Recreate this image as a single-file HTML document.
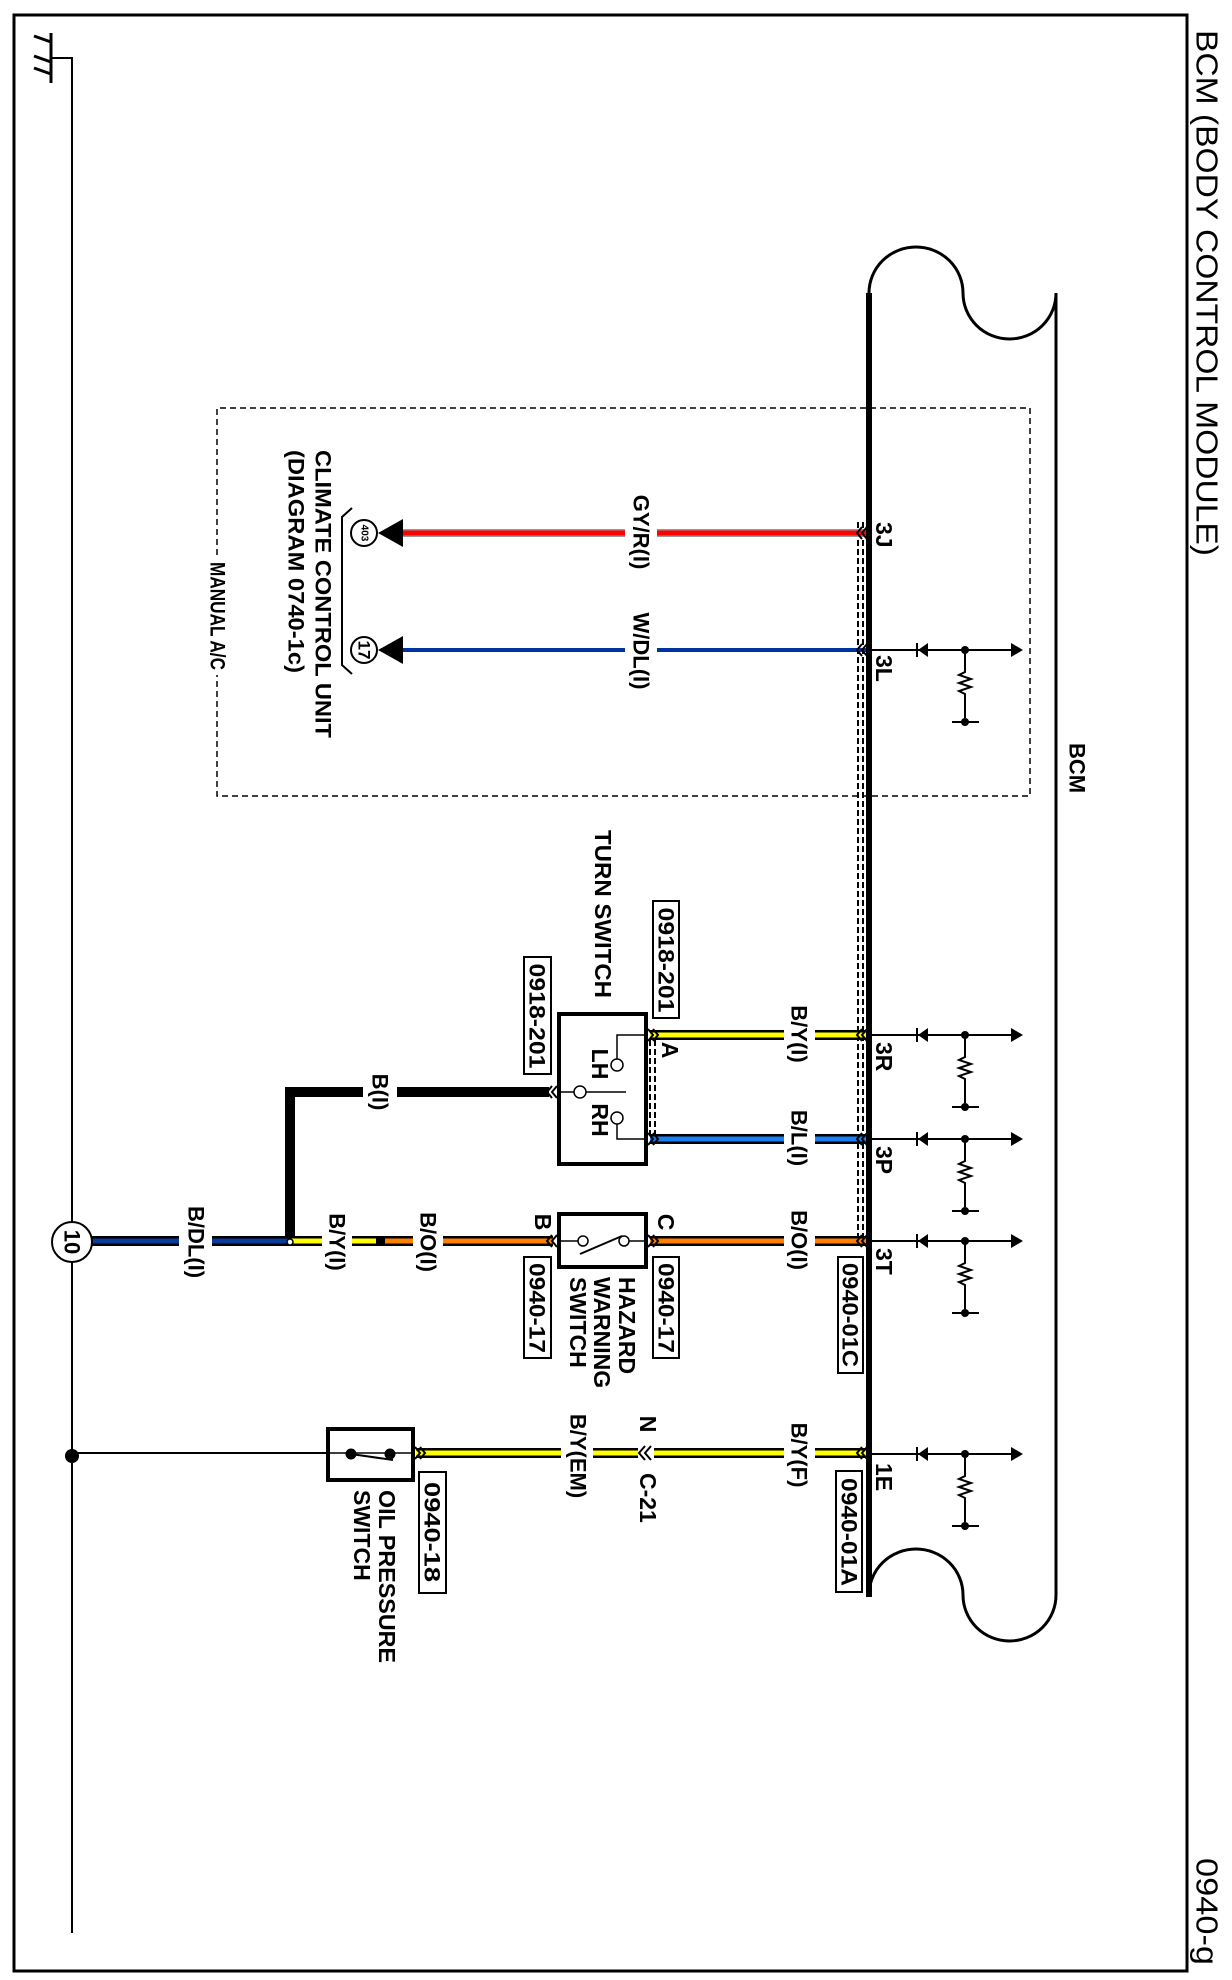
<!DOCTYPE html>
<html><head><meta charset="utf-8"><style>
html,body{margin:0;padding:0;background:#fff;}
svg{display:block;}
text{font-family:"Liberation Sans",Arial,sans-serif;fill:#000;font-weight:bold;}
</style></head><body>
<svg width="1232" height="1980" viewBox="0 0 1232 1980" xmlns="http://www.w3.org/2000/svg">
<rect x="0" y="0" width="1232" height="1980" fill="#fff"/>
<rect x="14" y="15" width="1173" height="1956" fill="none" stroke="#000" stroke-width="3"/>
<g font-size="31">
<text transform="translate(1207,30) rotate(90)" dominant-baseline="central" textLength="526" lengthAdjust="spacingAndGlyphs" style="font-weight:normal">BCM (BODY CONTROL MODULE)</text>
<text transform="translate(1207,1858) rotate(90)" dominant-baseline="central" textLength="107" lengthAdjust="spacingAndGlyphs" style="font-weight:normal">0940-g</text>
</g>
<line x1="51" y1="33" x2="51" y2="83" stroke="#000" stroke-width="3"/>
<g stroke="#000" stroke-width="3"><line x1="34" y1="36" x2="51" y2="42"/><line x1="34" y1="56" x2="51" y2="62"/><line x1="34" y1="68" x2="51" y2="74"/></g>
<polyline points="51,58 72,58 72,1933" fill="none" stroke="#000" stroke-width="2"/>
<circle cx="72" cy="1456" r="7" fill="#000"/>
<path d="M869,1597 L869,293 A47,46 0 0 1 963,293 A46.5,46 0 0 0 1056,293 L1056,1595 A46.5,46 0 0 1 963,1595 A47,46 0 0 0 869,1595" fill="none" stroke="#000" stroke-width="3"/>
<line x1="869" y1="293" x2="869" y2="1597" stroke="#000" stroke-width="6"/>
<text transform="translate(1077,768) rotate(90)" font-size="22" text-anchor="middle" dominant-baseline="central">BCM</text>
<g fill="none" stroke="#000" stroke-width="1.5" stroke-dasharray="6,4">
<polyline points="217,555 217,408 1030,408 1030,796 217,796 217,675"/>
</g>
<text transform="translate(217,562) rotate(90)" font-size="21" dominant-baseline="central" textLength="108" lengthAdjust="spacingAndGlyphs">MANUAL A/C</text>
<g stroke="#000" stroke-width="2" stroke-dasharray="6,3">
<line x1="858" y1="522" x2="858" y2="1246"/><line x1="863" y1="522" x2="863" y2="1246"/>
<line x1="650" y1="1040" x2="650" y2="1135"/><line x1="655" y1="1040" x2="655" y2="1135"/>
</g>
<g stroke-linecap="butt">
<line x1="403" y1="533" x2="625" y2="533" stroke="#999" stroke-width="8"/><line x1="403" y1="533" x2="625" y2="533" stroke="#f00" stroke-width="5"/>
<line x1="657" y1="533" x2="866" y2="533" stroke="#999" stroke-width="8"/><line x1="657" y1="533" x2="866" y2="533" stroke="#f00" stroke-width="5"/>
<line x1="403" y1="650" x2="625" y2="650" stroke="#0033a0" stroke-width="4"/>
<line x1="657" y1="650" x2="866" y2="650" stroke="#0033a0" stroke-width="4"/>
<line x1="650" y1="1035" x2="784" y2="1035" stroke="#000" stroke-width="10"/><line x1="650" y1="1035" x2="784" y2="1035" stroke="#ff0" stroke-width="5"/>
<line x1="815" y1="1035" x2="866" y2="1035" stroke="#000" stroke-width="10"/><line x1="815" y1="1035" x2="866" y2="1035" stroke="#ff0" stroke-width="5"/>
<line x1="650" y1="1139" x2="784" y2="1139" stroke="#000" stroke-width="10"/><line x1="650" y1="1139" x2="784" y2="1139" stroke="#1a7ff0" stroke-width="5"/>
<line x1="815" y1="1139" x2="866" y2="1139" stroke="#000" stroke-width="10"/><line x1="815" y1="1139" x2="866" y2="1139" stroke="#1a7ff0" stroke-width="5"/>
<line x1="650" y1="1241" x2="784" y2="1241" stroke="#000" stroke-width="10"/><line x1="650" y1="1241" x2="784" y2="1241" stroke="#ff7f00" stroke-width="5"/>
<line x1="815" y1="1241" x2="866" y2="1241" stroke="#000" stroke-width="10"/><line x1="815" y1="1241" x2="866" y2="1241" stroke="#ff7f00" stroke-width="5"/>
<line x1="443" y1="1241" x2="553" y2="1241" stroke="#000" stroke-width="10"/><line x1="443" y1="1241" x2="553" y2="1241" stroke="#ff7f00" stroke-width="5"/>
<line x1="376" y1="1241" x2="413" y2="1241" stroke="#000" stroke-width="10"/><line x1="385" y1="1241" x2="413" y2="1241" stroke="#ff7f00" stroke-width="5"/>
<line x1="290" y1="1241" x2="322" y2="1241" stroke="#000" stroke-width="10"/><line x1="290" y1="1241" x2="322" y2="1241" stroke="#ff0" stroke-width="5"/>
<line x1="352" y1="1241" x2="385" y2="1241" stroke="#000" stroke-width="10"/><line x1="352" y1="1241" x2="376" y2="1241" stroke="#ff0" stroke-width="5"/>
<line x1="92" y1="1241" x2="179" y2="1241" stroke="#000" stroke-width="10"/><line x1="92" y1="1241" x2="179" y2="1241" stroke="#0a3a9a" stroke-width="5"/>
<line x1="212" y1="1241" x2="290" y2="1241" stroke="#000" stroke-width="10"/><line x1="212" y1="1241" x2="290" y2="1241" stroke="#0a3a9a" stroke-width="5"/>
<circle cx="290" cy="1242" r="3" fill="#fff" stroke="#000" stroke-width="1.5"/>
<polyline points="290,1237 290,1092 363,1092" fill="none" stroke="#000" stroke-width="10"/>
<line x1="397" y1="1092" x2="549" y2="1092" stroke="#000" stroke-width="10"/>
<line x1="416" y1="1453" x2="561" y2="1453" stroke="#000" stroke-width="10"/><line x1="416" y1="1453" x2="561" y2="1453" stroke="#ff0" stroke-width="5"/>
<line x1="593" y1="1453" x2="638" y2="1453" stroke="#000" stroke-width="10"/><line x1="593" y1="1453" x2="638" y2="1453" stroke="#ff0" stroke-width="5"/>
<line x1="654" y1="1453" x2="784" y2="1453" stroke="#000" stroke-width="10"/><line x1="654" y1="1453" x2="784" y2="1453" stroke="#ff0" stroke-width="5"/>
<line x1="815" y1="1453" x2="866" y2="1453" stroke="#000" stroke-width="10"/><line x1="815" y1="1453" x2="866" y2="1453" stroke="#ff0" stroke-width="5"/>
<line x1="72" y1="1453" x2="327" y2="1453" stroke="#000" stroke-width="2"/>
</g>
<g fill="none" stroke="#000" stroke-width="2">
<path d="M862,527 l-5,6 l5,6 M867,527 l-5,6 l5,6"/>
<path d="M862,644 l-5,6 l5,6 M867,644 l-5,6 l5,6"/>
<path d="M862,1029 l-5,6 l5,6 M867,1029 l-5,6 l5,6"/>
<path d="M862,1133 l-5,6 l5,6 M867,1133 l-5,6 l5,6"/>
<path d="M862,1235 l-5,6 l5,6 M867,1235 l-5,6 l5,6"/>
<path d="M862,1447 l-5,6 l5,6 M867,1447 l-5,6 l5,6"/>
<path d="M648,1029 l5,6 l-5,6 M653,1029 l5,6 l-5,6"/>
<path d="M648,1133 l5,6 l-5,6 M653,1133 l5,6 l-5,6"/>
<path d="M648,1235 l5,6 l-5,6 M653,1235 l5,6 l-5,6"/>
<path d="M552,1086 l-5,6 l5,6 M557,1086 l-5,6 l5,6"/>
<path d="M552,1235 l-5,6 l5,6 M557,1235 l-5,6 l5,6"/>
<path d="M415,1447 l5,6 l-5,6 M420,1447 l5,6 l-5,6"/>
<path d="M645,1446 l-6,7 l6,7 M651,1446 l-6,7 l6,7"/>
</g>
<g stroke="#000" stroke-width="2" fill="none">
<path d="M869,650 H1012 M869,1035 H1012 M869,1139 H1012 M869,1241 H1012 M869,1454 H1012"/>
<path d="M965,650 v22 l-6,3 l12,4 l-12,4 l12,4 l-12,4 l6,3 v24 M952,722 H979"/>
<path d="M965,1035 v22 l-6,3 l12,4 l-12,4 l12,4 l-12,4 l6,3 v24 M952,1107 H979"/>
<path d="M965,1139 v22 l-6,3 l12,4 l-12,4 l12,4 l-12,4 l6,3 v24 M952,1211 H979"/>
<path d="M965,1241 v22 l-6,3 l12,4 l-12,4 l12,4 l-12,4 l6,3 v24 M952,1313 H979"/>
<path d="M965,1454 v22 l-6,3 l12,4 l-12,4 l12,4 l-12,4 l6,3 v24 M952,1526 H979"/>
</g>
<g fill="#000">
<path d="M1023,650 l-12,-7 v14 z M918,650 l10,-7 v14 z"/><rect x="916" y="643" width="2" height="14"/><circle cx="965" cy="650" r="4"/><circle cx="965" cy="722" r="4"/>
<path d="M1023,1035 l-12,-7 v14 z M918,1035 l10,-7 v14 z"/><rect x="916" y="1028" width="2" height="14"/><circle cx="965" cy="1035" r="4"/><circle cx="965" cy="1107" r="4"/>
<path d="M1023,1139 l-12,-7 v14 z M918,1139 l10,-7 v14 z"/><rect x="916" y="1132" width="2" height="14"/><circle cx="965" cy="1139" r="4"/><circle cx="965" cy="1211" r="4"/>
<path d="M1023,1241 l-12,-7 v14 z M918,1241 l10,-7 v14 z"/><rect x="916" y="1234" width="2" height="14"/><circle cx="965" cy="1241" r="4"/><circle cx="965" cy="1313" r="4"/>
<path d="M1023,1454 l-12,-7 v14 z M918,1454 l10,-7 v14 z"/><rect x="916" y="1447" width="2" height="14"/><circle cx="965" cy="1454" r="4"/><circle cx="965" cy="1526" r="4"/>
</g>
<path d="M378,533 l25,-14 v28 z M378,650 l25,-14 v28 z" fill="#000"/>
<circle cx="364" cy="533" r="13" fill="#fff" stroke="#000" stroke-width="2"/>
<circle cx="364" cy="650" r="13" fill="#fff" stroke="#000" stroke-width="2"/>
<text transform="translate(364,533) rotate(90)" font-size="10" text-anchor="middle" dominant-baseline="central">403</text>
<text transform="translate(364,650) rotate(90)" font-size="17" text-anchor="middle" dominant-baseline="central">17</text>
<path d="M352,508 L342,517 V665 L352,674" fill="none" stroke="#000" stroke-width="2"/>
<g font-size="22" dominant-baseline="central">
<text transform="translate(323,450) rotate(90)" textLength="288" lengthAdjust="spacingAndGlyphs">CLIMATE CONTROL UNIT</text>
<text transform="translate(296,450) rotate(90)" textLength="223" lengthAdjust="spacingAndGlyphs">(DIAGRAM 0740-1c)</text>
</g>
<circle cx="72" cy="1242" r="20" fill="#fff" stroke="#000" stroke-width="2"/>
<text transform="translate(72,1242) rotate(90)" font-size="22" text-anchor="middle" dominant-baseline="central">10</text>
<rect x="559" y="1014" width="87" height="150" fill="#fff" stroke="#000" stroke-width="4"/>
<g stroke="#000" stroke-width="1.5" fill="none">
<polyline points="646,1035 617,1035 617,1059"/>
<circle cx="617" cy="1065" r="6" fill="#fff"/>
<line x1="559" y1="1092" x2="574" y2="1092"/>
<circle cx="580" cy="1092" r="6" fill="#fff"/>
<line x1="586" y1="1092" x2="626" y2="1092"/>
<circle cx="617" cy="1118" r="6" fill="#fff"/>
<polyline points="617,1124 617,1139 646,1139"/>
</g>
<g font-size="23" text-anchor="middle" dominant-baseline="central">
<text transform="translate(600,1064) rotate(90)">LH</text>
<text transform="translate(600,1120) rotate(90)">RH</text>
<text transform="translate(670,1050) rotate(90)">A</text>
<text transform="translate(543,1222) rotate(90)">B</text>
<text transform="translate(666,1222) rotate(90)">C</text>
<text transform="translate(648,1424) rotate(90)">N</text>
</g>
<rect x="559" y="1214" width="87" height="53" fill="#fff" stroke="#000" stroke-width="4"/>
<g stroke="#000" stroke-width="1.5" fill="none">
<line x1="559" y1="1241" x2="578" y2="1241"/><circle cx="583" cy="1241" r="5" fill="#fff"/>
<circle cx="624" cy="1241" r="5" fill="#fff"/><line x1="629" y1="1241" x2="646" y2="1241"/>
<line x1="580" y1="1254" x2="622" y2="1236" stroke-width="2"/>
</g>
<rect x="328" y="1429" width="85" height="51" fill="#fff" stroke="#000" stroke-width="4"/>
<g stroke="#000" fill="#000">
<line x1="328" y1="1453" x2="413" y2="1453" stroke-width="1.5"/>
<circle cx="351" cy="1454" r="5"/><circle cx="390" cy="1454" r="5"/>
<line x1="351" y1="1454" x2="393" y2="1460" stroke-width="2"/>
</g>
<g fill="#fff" stroke="#000" stroke-width="2">
<rect x="653" y="901" width="26" height="117"/>
<rect x="524" y="957" width="27" height="117"/>
<rect x="653" y="1257" width="26" height="101"/>
<rect x="524" y="1257" width="27" height="101"/>
<rect x="838" y="1257" width="25" height="116"/>
<rect x="836" y="1471" width="26" height="121"/>
<rect x="419" y="1472" width="27" height="121"/>
</g>
<g font-size="22" text-anchor="middle" dominant-baseline="central">
<text transform="translate(666,960) rotate(90)" textLength="105" lengthAdjust="spacingAndGlyphs">0918-201</text>
<text transform="translate(537,1016) rotate(90)" textLength="105" lengthAdjust="spacingAndGlyphs">0918-201</text>
<text transform="translate(666,1308) rotate(90)" textLength="90" lengthAdjust="spacingAndGlyphs">0940-17</text>
<text transform="translate(537,1308) rotate(90)" textLength="90" lengthAdjust="spacingAndGlyphs">0940-17</text>
<text transform="translate(850,1315) rotate(90)" textLength="104" lengthAdjust="spacingAndGlyphs">0940-01C</text>
<text transform="translate(849,1532) rotate(90)" textLength="108" lengthAdjust="spacingAndGlyphs">0940-01A</text>
<text transform="translate(432,1532) rotate(90)" textLength="100" lengthAdjust="spacingAndGlyphs">0940-18</text>
</g>
<g font-size="23" dominant-baseline="central">
<text transform="translate(884,522) rotate(90)">3J</text>
<text transform="translate(884,655) rotate(90)">3L</text>
<text transform="translate(884,1042) rotate(90)">3R</text>
<text transform="translate(884,1146) rotate(90)">3P</text>
<text transform="translate(884,1248) rotate(90)">3T</text>
<text transform="translate(884,1463) rotate(90)">1E</text>
</g>
<g font-size="22" text-anchor="middle" dominant-baseline="central">
<text transform="translate(641,532) rotate(90)">GY/R(I)</text>
<text transform="translate(641,651) rotate(90)">W/DL(I)</text>
<text transform="translate(799,1034) rotate(90)">B/Y(I)</text>
<text transform="translate(799,1138) rotate(90)">B/L(I)</text>
<text transform="translate(799,1240) rotate(90)">B/O(I)</text>
<text transform="translate(799,1455) rotate(90)">B/Y(F)</text>
<text transform="translate(578,1456) rotate(90)">B/Y(EM)</text>
<text transform="translate(428,1242) rotate(90)">B/O(I)</text>
<text transform="translate(337,1242) rotate(90)">B/Y(I)</text>
<text transform="translate(196,1242) rotate(90)">B/DL(I)</text>
<text transform="translate(380,1092) rotate(90)">B(I)</text>
</g>
<g font-size="23" dominant-baseline="central">
<text transform="translate(648,1473) rotate(90)">C-21</text>
<text transform="translate(603,830) rotate(90)" textLength="168" lengthAdjust="spacingAndGlyphs">TURN SWITCH</text>
<text transform="translate(627,1277) rotate(90)">HAZARD</text>
<text transform="translate(602,1277) rotate(90)">WARNING</text>
<text transform="translate(578,1277) rotate(90)">SWITCH</text>
<text transform="translate(387,1490) rotate(90)" textLength="173" lengthAdjust="spacingAndGlyphs">OIL PRESSURE</text>
<text transform="translate(362,1490) rotate(90)">SWITCH</text>
</g>
</svg>
</body></html>
